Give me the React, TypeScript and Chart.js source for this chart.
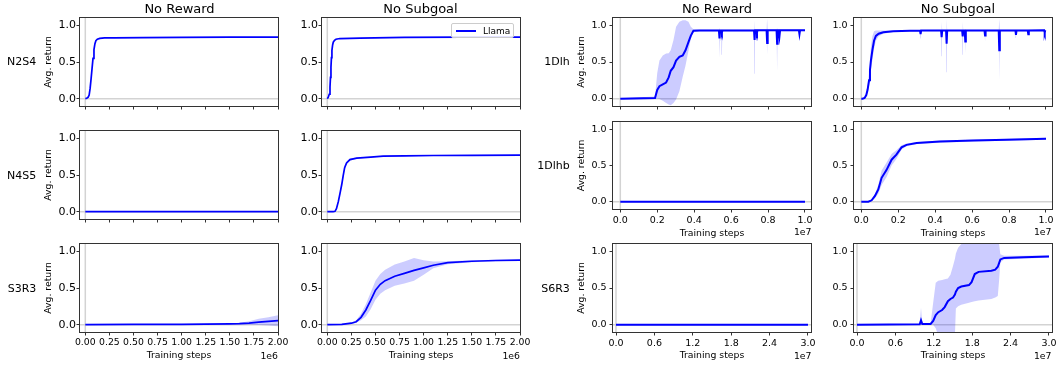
import React, { useEffect, useRef } from "react";
import { Chart, registerables } from "chart.js";

Chart.register(...registerables);

const FONT = '"DejaVu Sans", Verdana, sans-serif';
const BLUE = "#0000ff";
const BAND = "rgba(0, 0, 255, 0.2)";
const ZERO = "#d3d3d3";
const Y_MIN = -0.1;
const Y_MAX = 1.1;

// ---------- tick values ----------
const yTickValues = [0, 0.5, 1.0];
const xTicks2e6 = [0, 250000, 500000, 750000, 1000000, 1250000, 1500000, 1750000, 2000000];
const xTicks1e7 = [0, 2000000, 4000000, 6000000, 8000000, 10000000];
const xTicks3e7 = [0, 6000000, 12000000, 18000000, 24000000, 30000000];

// ---------- labels ----------
const leftRows = ["N2S4", "N4S5", "S3R3"];
const rightRows = ["1Dlh", "1Dlhb", "S6R3"];
const columnTitles = ["No Reward", "No Subgoal", "No Reward", "No Subgoal"];
const seriesName = "Llama";

// ---------- N2S4 ----------
const n2s4RewardX = [0, 15000, 30000, 40000, 50000, 60000, 70000, 80000, 90000, 100000, 110000, 125000, 150000, 200000, 300000, 600000, 1000000, 1500000, 2000000];
const n2s4RewardY = [0, 0.005, 0.02, 0.05, 0.14, 0.27, 0.41, 0.55, 0.67, 0.75, 0.79, 0.81, 0.822, 0.828, 0.83, 0.832, 0.836, 0.84, 0.84];

const n2s4SubgoalX = [0, 10000, 20000, 28000, 33000, 38000, 43000, 48000, 55000, 62000, 75000, 90000, 130000, 340000, 800000, 1400000, 2000000];
const n2s4SubgoalY = [0, 0.02, 0.06, 0.16, 0.29, 0.43, 0.56, 0.66, 0.73, 0.77, 0.795, 0.81, 0.82, 0.826, 0.835, 0.84, 0.84];

// ---------- N4S5 ----------
const n4s5RewardX = [0, 2000000];
const n4s5RewardY = [0, 0];

const n4s5SubgoalX = [0, 60000, 80000, 95000, 115000, 135000, 150000, 165000, 180000, 200000, 235000, 305000, 450000, 580000, 800000, 1100000, 1500000, 2000000];
const n4s5SubgoalY = [0, 0, 0.005, 0.04, 0.14, 0.27, 0.37, 0.49, 0.6, 0.665, 0.71, 0.73, 0.745, 0.757, 0.762, 0.766, 0.768, 0.77];
const n4s5SubgoalLo = [0, 0, 0, 0.03, 0.12, 0.24, 0.34, 0.46, 0.57, 0.645, 0.695, 0.72, 0.738, 0.75, 0.756, 0.76, 0.762, 0.764];
const n4s5SubgoalHi = [0, 0, 0.01, 0.05, 0.16, 0.3, 0.4, 0.52, 0.63, 0.685, 0.725, 0.74, 0.752, 0.764, 0.768, 0.772, 0.774, 0.776];

// ---------- S3R3 ----------
const s3r3RewardX = [0, 500000, 1000000, 1500000, 1600000, 1700000, 1800000, 1900000, 2000000];
const s3r3RewardY = [0, 0.003, 0.005, 0.01, 0.013, 0.02, 0.035, 0.045, 0.055];
const s3r3RewardLo = [0, 0, 0, 0.003, 0.003, 0, -0.005, -0.01, -0.02];
const s3r3RewardHi = [0, 0.006, 0.01, 0.017, 0.025, 0.045, 0.08, 0.1, 0.13];

const s3r3SubgoalX = [0, 150000, 250000, 300000, 350000, 400000, 450000, 500000, 550000, 600000, 700000, 800000, 900000, 1000000, 1100000, 1250000, 1500000, 1750000, 2000000];
const s3r3SubgoalY = [0, 0.005, 0.02, 0.04, 0.1, 0.2, 0.33, 0.47, 0.55, 0.6, 0.66, 0.7, 0.74, 0.775, 0.81, 0.845, 0.865, 0.875, 0.88];
const s3r3SubgoalLo = [-0.003, 0, 0.01, 0.025, 0.06, 0.11, 0.21, 0.34, 0.42, 0.47, 0.53, 0.56, 0.6, 0.68, 0.77, 0.825, 0.85, 0.865, 0.87];
const s3r3SubgoalHi = [0.003, 0.01, 0.03, 0.06, 0.15, 0.28, 0.44, 0.6, 0.69, 0.75, 0.82, 0.86, 0.91, 0.88, 0.86, 0.865, 0.88, 0.885, 0.89];

// ---------- 1Dlh ----------
const dlhRewardX = [0, 1880000, 2000000, 2120000, 2300000, 2480000, 2620000, 2730000, 2880000, 3020000, 3200000, 3380000, 3530000, 3690000, 3820000, 3960000, 4300000,
  5340000, 5370000, 5400000, 5470000, 5500000, 5530000,
  7240000, 7270000, 7300000, 7370000, 7400000, 7430000,
  7920000, 7950000, 7980000,
  8460000, 8490000, 8520000, 8590000, 8620000, 8650000,
  9670000, 9700000, 9730000, 10000000];
const dlhRewardY = [0, 0.01, 0.12, 0.17, 0.195, 0.22, 0.29, 0.38, 0.43, 0.52, 0.57, 0.59, 0.66, 0.77, 0.86, 0.925, 0.93,
  0.93, 0.82, 0.93, 0.93, 0.9, 0.93,
  0.932, 0.8, 0.932, 0.932, 0.9, 0.932,
  0.932, 0.76, 0.932,
  0.932, 0.75, 0.932, 0.932, 0.86, 0.932,
  0.932, 0.88, 0.932, 0.932];
const dlhRewardLo = [-0.005, 0, 0, -0.005, -0.03, -0.06, -0.08, -0.09, -0.06, -0.01, 0.1, 0.3, 0.45, 0.65, 0.82, 0.905, 0.92,
  0.92, 0.55, 0.92, 0.92, 0.6, 0.92,
  0.92, 0.34, 0.92, 0.92, 0.85, 0.92,
  0.92, 0.6, 0.92,
  0.92, 0.37, 0.92, 0.92, 0.75, 0.92,
  0.92, 0.85, 0.92, 0.92];
const dlhRewardHi = [0.005, 0.03, 0.35, 0.52, 0.59, 0.615, 0.62, 0.66, 0.8, 0.98, 1.05, 1.07, 1.07, 1.05, 0.98, 0.945, 0.944,
  0.944, 0.96, 0.944, 0.944, 0.95, 0.944,
  0.944, 1.07, 0.944, 0.944, 0.95, 0.944,
  0.944, 1.09, 0.944,
  0.944, 0.96, 0.944, 0.944, 0.95, 0.944,
  0.944, 0.944, 0.944, 0.944];

const dlhSubgoalX = [0, 70000, 180000, 270000, 340000, 420000, 470000, 520000, 600000, 690000, 790000, 940000, 1190000, 1730000, 2640000,
  3180000, 3210000, 3240000,
  4320000, 4350000, 4380000,
  4590000, 4620000, 4650000,
  5460000, 5490000, 5520000,
  5600000, 5630000, 5660000,
  6670000, 6700000, 6730000,
  7440000, 7470000, 7500000,
  8345000, 8375000, 8405000,
  9010000, 9040000, 9070000,
  9900000, 9930000, 9960000,
  10000000];
const dlhSubgoalY = [0, 0, 0.01, 0.05, 0.12, 0.25, 0.39, 0.52, 0.66, 0.79, 0.855, 0.885, 0.905, 0.92, 0.925,
  0.928, 0.88, 0.928,
  0.93, 0.84, 0.93,
  0.93, 0.75, 0.93,
  0.93, 0.85, 0.93,
  0.93, 0.78, 0.93,
  0.93, 0.86, 0.93,
  0.93, 0.66, 0.93,
  0.93, 0.87, 0.93,
  0.93, 0.88, 0.93,
  0.932, 0.9, 0.932,
  0.932];
const dlhSubgoalLo = [0, 0, 0.005, 0.03, 0.08, 0.17, 0.28, 0.4, 0.52, 0.68, 0.79, 0.85, 0.885, 0.91, 0.915,
  0.918, 0.82, 0.918,
  0.92, 0.58, 0.92,
  0.92, 0.36, 0.92,
  0.92, 0.6, 0.92,
  0.92, 0.62, 0.92,
  0.92, 0.78, 0.92,
  0.92, 0.24, 0.92,
  0.92, 0.83, 0.92,
  0.92, 0.86, 0.92,
  0.922, 0.87, 0.922,
  0.922];
const dlhSubgoalHi = [0, 0, 0.015, 0.07, 0.17, 0.35, 0.52, 0.7, 0.85, 0.92, 0.93, 0.93, 0.93, 0.93, 0.935,
  0.938, 0.94, 0.938,
  0.94, 1.05, 0.94,
  0.94, 1.09, 0.94,
  0.94, 1.05, 0.94,
  0.94, 0.95, 0.94,
  0.94, 0.94, 0.94,
  0.94, 1.09, 0.94,
  0.94, 0.94, 0.94,
  0.94, 0.94, 0.94,
  0.942, 0.942, 0.942,
  0.942];

// ---------- 1Dlhb ----------
const dlhbRewardX = [0, 10000000];
const dlhbRewardY = [0, 0];

const dlhbSubgoalX = [0, 380000, 560000, 740000, 920000, 1100000, 1370000, 1640000, 1900000, 2180000, 2450000, 3000000, 4260000, 6070000, 7870000, 10000000];
const dlhbSubgoalY = [0, 0, 0.02, 0.08, 0.17, 0.33, 0.44, 0.58, 0.65, 0.75, 0.785, 0.81, 0.83, 0.845, 0.855, 0.868];
const dlhbSubgoalLo = [0, -0.003, 0.01, 0.05, 0.11, 0.23, 0.34, 0.5, 0.59, 0.72, 0.765, 0.795, 0.815, 0.83, 0.84, 0.854];
const dlhbSubgoalHi = [0, 0.003, 0.03, 0.11, 0.23, 0.43, 0.54, 0.66, 0.71, 0.78, 0.805, 0.825, 0.845, 0.86, 0.87, 0.882];

// ---------- S6R3 ----------
const s6r3RewardX = [0, 30000000];
const s6r3RewardY = [0, 0];

const s6r3SubgoalX = [0, 5000000, 9800000, 10000000, 10200000, 11500000, 11900000, 12300000, 12700000, 13300000, 13700000, 14200000, 14600000, 15000000, 15300000, 15450000, 15800000, 16300000, 17500000, 17900000, 18400000, 19000000, 21000000, 21600000, 22000000, 22200000, 22400000, 23000000, 26000000, 30000000];
const s6r3SubgoalY = [0, 0.003, 0.005, 0.06, 0.008, 0.01, 0.05, 0.13, 0.17, 0.2, 0.24, 0.32, 0.35, 0.37, 0.41, 0.45, 0.5, 0.52, 0.54, 0.58, 0.69, 0.72, 0.735, 0.75, 0.79, 0.84, 0.89, 0.91, 0.92, 0.93];
const s6r3SubgoalLo = [-0.005, -0.002, 0, 0, 0.004, 0.005, 0, -0.05, -0.15, -0.15, -0.15, -0.15, -0.15, -0.15, -0.15, 0.22, 0.25, 0.27, 0.3, 0.31, 0.32, 0.33, 0.35, 0.37, 0.39, 0.6, 0.85, 0.89, 0.9, 0.915];
const s6r3SubgoalHi = [0.005, 0.008, 0.01, 0.23, 0.012, 0.015, 0.3, 0.57, 0.6, 0.61, 0.62, 0.63, 0.68, 0.8, 0.9, 0.97, 1.05, 1.1, 1.12, 1.12, 1.12, 1.12, 1.12, 1.12, 1.12, 1.1, 0.96, 0.94, 0.94, 0.945];

// ---------- layout ----------
const PAD_L = 45;
const PAD_T = 4;
const PAD_B = 36;
const PLOT_W = 198;
const colLeft = [80, 322, 613, 854];
const rowTopLeft = [18, 131, 244];
const rowTopRight = [18, 122, 244];
const rowHRight = [88, 87, 88];

type PanelSpec = {
  left: number; top: number; width: number; height: number;
  xMin: number; xMax: number; xTicks: number[]; xDiv: number; xDigits: number;
  xLabels: boolean; xTitle: boolean; xTitleGap: number; yTitle: boolean;
  yTickSize: number; xTickSize: number; yTickPad: number; padR: number; lineW: number;
  x: number[]; mean: number[]; lo?: number[]; hi?: number[];
};

const leftData = [
  [{ x: n2s4RewardX, mean: n2s4RewardY }, { x: n2s4SubgoalX, mean: n2s4SubgoalY }],
  [{ x: n4s5RewardX, mean: n4s5RewardY }, { x: n4s5SubgoalX, mean: n4s5SubgoalY, lo: n4s5SubgoalLo, hi: n4s5SubgoalHi }],
  [{ x: s3r3RewardX, mean: s3r3RewardY, lo: s3r3RewardLo, hi: s3r3RewardHi }, { x: s3r3SubgoalX, mean: s3r3SubgoalY, lo: s3r3SubgoalLo, hi: s3r3SubgoalHi }],
];
const rightData = [
  [{ x: dlhRewardX, mean: dlhRewardY, lo: dlhRewardLo, hi: dlhRewardHi }, { x: dlhSubgoalX, mean: dlhSubgoalY, lo: dlhSubgoalLo, hi: dlhSubgoalHi }],
  [{ x: dlhbRewardX, mean: dlhbRewardY }, { x: dlhbSubgoalX, mean: dlhbSubgoalY, lo: dlhbSubgoalLo, hi: dlhbSubgoalHi }],
  [{ x: s6r3RewardX, mean: s6r3RewardY }, { x: s6r3SubgoalX, mean: s6r3SubgoalY, lo: s6r3SubgoalLo, hi: s6r3SubgoalHi }],
];

const panels: PanelSpec[] = [];
for (let r = 0; r < 3; r++) {
  for (let c = 0; c < 2; c++) {
    panels.push({
      left: colLeft[c], top: rowTopLeft[r], width: PLOT_W, height: 88,
      xMin: -55000, xMax: 2000000, xTicks: xTicks2e6, xDiv: 1e6, xDigits: 2,
      xLabels: r === 2, xTitle: r === 2, xTitleGap: 23.5, yTitle: c === 0,
      yTickSize: 11, xTickSize: 9.3, yTickPad: 0.5, padR: 14, lineW: 1.7,
      ...leftData[r][c],
    });
  }
}
for (let r = 0; r < 3; r++) {
  for (let c = 0; c < 2; c++) {
    const long = r === 2;
    panels.push({
      left: colLeft[c + 2], top: rowTopRight[r], width: PLOT_W, height: rowHRight[r],
      xMin: long ? -470000 : -395000, xMax: long ? 30470000 : 10325000,
      xTicks: long ? xTicks3e7 : xTicks1e7, xDiv: 1e7, xDigits: 1,
      xLabels: r > 0, xTitle: r > 0, xTitleGap: r === 1 ? 24.3 : 23.5, yTitle: c === 0,
      yTickSize: 9.5, xTickSize: 9.5, yTickPad: 3, padR: c === 1 ? 6 : 14, lineW: 2,
      ...rightData[r][c],
    });
  }
}

const framePlugin = {
  id: "frame",
  afterDraw(chart: any) {
    const { ctx, chartArea } = chart;
    const { left, top, right, bottom } = chartArea;
    ctx.save();
    ctx.strokeStyle = "#333";
    ctx.lineWidth = 1;
    ctx.strokeRect(Math.round(left) - 0.5, Math.round(top) - 0.5, Math.round(right - left) + 1, Math.round(bottom - top) + 1);
    ctx.restore();
  },
};

function Panel({ spec }: { spec: PanelSpec }) {
  const ref = useRef<HTMLCanvasElement>(null);
  const cw = spec.width + PAD_L + spec.padR;
  const ch = spec.height + PAD_T + PAD_B;
  useEffect(() => {
    const canvas = ref.current;
    if (!canvas) return;
    const pts = (ys: number[]) => spec.x.map((x, i) => ({ x, y: ys[i] }));
    const datasets: any[] = [
      { data: [{ x: spec.xMin, y: 0 }, { x: spec.xMax, y: 0 }], borderColor: ZERO, borderWidth: 1.5, pointRadius: 0, fill: false, order: 10 },
      { data: [{ x: 0, y: Y_MIN }, { x: 0, y: Y_MAX }], borderColor: ZERO, borderWidth: 1.5, pointRadius: 0, fill: false, order: 10 },
    ];
    if (spec.lo && spec.hi) {
      datasets.push({ data: pts(spec.lo), borderWidth: 0, borderColor: "rgba(0,0,0,0)", pointRadius: 0, fill: false, order: 5 });
      datasets.push({ data: pts(spec.hi), borderWidth: 0, borderColor: "rgba(0,0,0,0)", backgroundColor: BAND, pointRadius: 0, fill: "-1", order: 5 });
    }
    datasets.push({ data: pts(spec.mean), borderColor: BLUE, borderWidth: spec.lineW, pointRadius: 0, fill: false, order: 1 });

    const lh = 9.3 * 1.2;
    const gridOpts = { display: true, drawOnChartArea: false, drawTicks: true, tickLength: 3.5, tickWidth: 1, tickColor: "#333" };
    const chart = new Chart(canvas, {
      type: "line",
      data: { datasets },
      options: {
        animation: false,
        responsive: false,
        maintainAspectRatio: false,
        events: [],
        layout: { autoPadding: false, padding: { left: 0, top: PAD_T, right: spec.padR, bottom: 0 } },
        plugins: { legend: { display: false }, tooltip: { enabled: false }, title: { display: false } },
        scales: {
          x: {
            type: "linear", min: spec.xMin, max: spec.xMax,
            afterBuildTicks: (s: any) => { s.ticks = spec.xTicks.map((v) => ({ value: v })); },
            afterFit: (s: any) => { s.height = PAD_B; s.paddingLeft = 0; s.paddingRight = 0; },
            ticks: {
              display: spec.xLabels, autoSkip: false, maxRotation: 0, minRotation: 0, padding: 2,
              color: "#000", font: { family: FONT, size: spec.xTickSize },
              callback: (v: any) => (Number(v) / spec.xDiv).toFixed(spec.xDigits),
            },
            grid: gridOpts,
            border: { display: false },
            title: {
              display: spec.xTitle, text: "Training steps", color: "#000",
              font: { family: FONT, size: 9.3 },
              padding: { top: 0, bottom: PAD_B - spec.xTitleGap - lh / 2 },
            },
          },
          y: {
            type: "linear", min: Y_MIN, max: Y_MAX,
            afterBuildTicks: (s: any) => { s.ticks = yTickValues.map((v) => ({ value: v })); },
            afterFit: (s: any) => { s.width = PAD_L; s.paddingTop = 0; s.paddingBottom = 0; },
            ticks: {
              padding: spec.yTickPad, color: "#000", font: { family: FONT, size: spec.yTickSize },
              callback: (v: any) => Number(v).toFixed(1),
            },
            grid: gridOpts,
            border: { display: false },
            title: {
              display: spec.yTitle, text: "Avg. return", color: "#000",
              font: { family: FONT, size: 9.3 },
              padding: { top: PAD_L - 31 - lh / 2, bottom: 0 },
            },
          },
        },
      } as any,
      plugins: [framePlugin],
    });
    return () => chart.destroy();
  }, [spec]);
  return (
    <canvas
      ref={ref}
      width={cw}
      height={ch}
      style={{ position: "absolute", left: spec.left - PAD_L, top: spec.top - PAD_T, width: cw, height: ch }}
    />
  );
}

type TextSpec = { text: string; x: number; y: number; size: number; align: "center" | "right" | "left" };

const texts: TextSpec[] = [
  { text: columnTitles[0], x: 179.5, y: 7.8, size: 13, align: "center" },
  { text: columnTitles[1], x: 420.5, y: 7.8, size: 13, align: "center" },
  { text: columnTitles[2], x: 717, y: 7.8, size: 13, align: "center" },
  { text: columnTitles[3], x: 958, y: 7.8, size: 13, align: "center" },
  { text: leftRows[0], x: 36.3, y: 61.3, size: 11, align: "right" },
  { text: leftRows[1], x: 36.3, y: 174.5, size: 11, align: "right" },
  { text: leftRows[2], x: 36.3, y: 288.3, size: 11, align: "right" },
  { text: rightRows[0], x: 569.8, y: 61.3, size: 11, align: "right" },
  { text: rightRows[1], x: 569.8, y: 165, size: 11, align: "right" },
  { text: rightRows[2], x: 569.8, y: 288, size: 11, align: "right" },
  { text: "1e6", x: 278, y: 355.5, size: 9.3, align: "right" },
  { text: "1e6", x: 520, y: 355.5, size: 9.3, align: "right" },
  { text: "1e7", x: 811.5, y: 232, size: 9.3, align: "right" },
  { text: "1e7", x: 1051.5, y: 232, size: 9.3, align: "right" },
  { text: "1e7", x: 811.5, y: 355.5, size: 9.3, align: "right" },
  { text: "1e7", x: 1051.5, y: 355.5, size: 9.3, align: "right" },
];

export default function App() {
  return (
    <div style={{ position: "absolute", left: 0, top: 0, width: 1058, height: 368, background: "#fff", overflow: "hidden", fontFamily: FONT }}>
      {panels.map((p, i) => (
        <Panel key={i} spec={p} />
      ))}
      {texts.map((t, i) => (
        <div
          key={"t" + i}
          style={{
            position: "absolute", left: t.x, top: t.y, fontSize: t.size, lineHeight: 1, whiteSpace: "nowrap", color: "#000",
            transform: `translate(${t.align === "center" ? "-50%" : t.align === "right" ? "-100%" : "0"}, -50%)`,
          }}
        >
          {t.text}
        </div>
      ))}
      <div
        style={{
          position: "absolute", left: 451, top: 22.7, width: 63, height: 15.6, boxSizing: "border-box",
          border: "1px solid #cccccc", borderRadius: 2, background: "rgba(255,255,255,0.85)",
        }}
      >
        <div style={{ position: "absolute", left: 3.5, top: 6.5, width: 20, height: 1.6, background: BLUE }} />
        <div style={{ position: "absolute", left: 31, top: 7.5, fontSize: 9, lineHeight: 1, whiteSpace: "nowrap", transform: "translateY(-50%)" }}>
          {seriesName}
        </div>
      </div>
    </div>
  );
}
